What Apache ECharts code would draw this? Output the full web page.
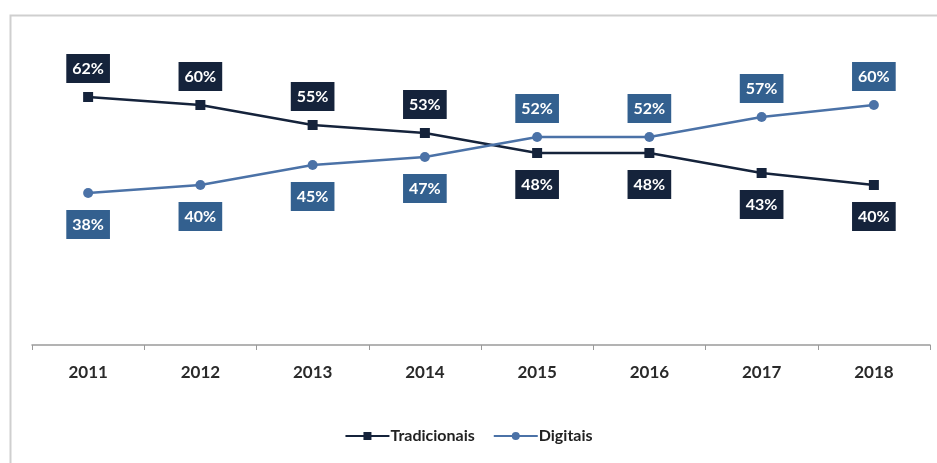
<!DOCTYPE html>
<html><head><meta charset="utf-8">
<script src="https://cdn.jsdelivr.net/npm/echarts@6/dist/echarts.min.js"></script>
<style>html,body{margin:0;padding:0;background:#fff}#c{width:937px;height:463px}</style>
</head><body><div id="c"></div>
<script>
const categories = ['2011','2012','2013','2014','2015','2016','2017','2018'];
const tradicionais = [62,60,55,53,48,48,43,40];
const digitais = [38,40,45,47,52,52,57,60];

const cTrad = '#15233b', cDigLine = '#4b72a7', cDigBox = '#33608f';
const FONT = 'Lato';

function items(vals, other, boxColor) {
  return vals.map((v, i) => ({
    value: v,
    label: {
      position: v >= other[i] ? 'top' : 'bottom',
      distance: v >= other[i] ? 9 : 12,
      backgroundColor: boxColor
    }
  }));
}
const labelBase = {
  show: true, formatter: '{c}%', color: '#fff', fontFamily: FONT,
  fontWeight: 'bold', fontSize: 16, padding: [7, 6, 6, 6]
};

const chart = echarts.init(document.getElementById('c'));
chart.setOption({
  backgroundColor: '#fff',
  animation: false,
  graphic: [{
    type: 'rect', shape: { x: 10.5, y: 15.5, width: 940, height: 460 },
    style: { fill: 'none', stroke: '#cfcfcf', lineWidth: 2 }, silent: true
  }],
  grid: { left: 32, right: 7, top: 65, bottom: 118 },
  legend: {
    bottom: 14, left: 'center', itemGap: 18, itemWidth: 44, itemHeight: 10,
    textStyle: { fontFamily: FONT, fontSize: 16, fontWeight: 'bold', color: '#222', padding: [0,0,0,-4] },
    data: ['Tradicionais', 'Digitais']
  },
  xAxis: {
    type: 'category', data: categories, boundaryGap: true,
    axisLine: { lineStyle: { color: '#9a9a9a', width: 1.5 } },
    axisTick: { show: true, length: 5, lineStyle: { color: '#9a9a9a' } },
    axisLabel: { fontFamily: FONT, fontWeight: 'bold', fontSize: 17, color: '#2a2a2a', margin: 19 }
  },
  yAxis: { type: 'value', min: 0, max: 70, show: false, splitLine: { show: false } },
  series: [
    {
      name: 'Tradicionais', type: 'line', data: items(tradicionais, digitais, cTrad),
      symbol: 'rect', symbolSize: 10, color: cTrad,
      lineStyle: { width: 2.5, color: cTrad }, itemStyle: { color: cTrad },
      label: labelBase
    },
    {
      name: 'Digitais', type: 'line', data: items(digitais, tradicionais, cDigBox),
      symbol: 'circle', symbolSize: 10, color: cDigLine,
      lineStyle: { width: 2.5, color: cDigLine }, itemStyle: { color: cDigLine },
      label: labelBase
    }
  ]
});
</script></body></html>
